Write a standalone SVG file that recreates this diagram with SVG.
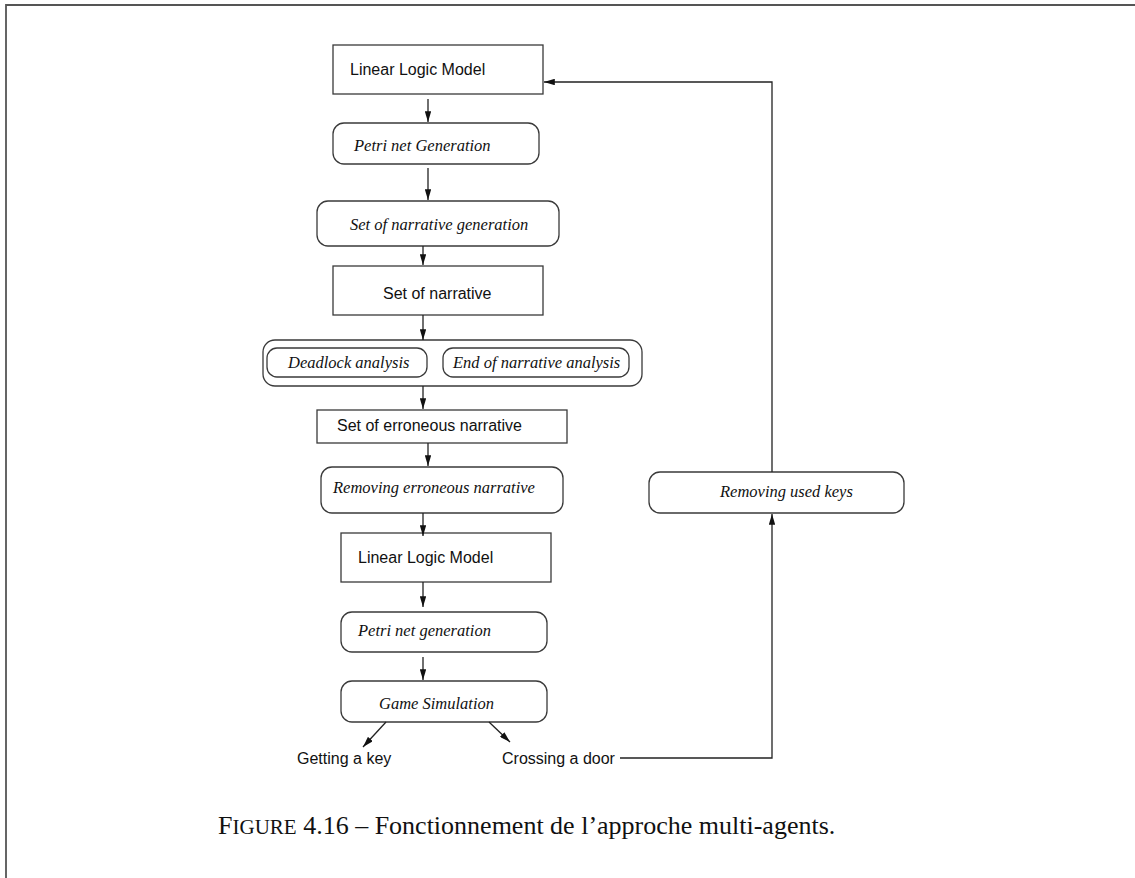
<svg xmlns="http://www.w3.org/2000/svg" width="1135" height="878" viewBox="0 0 1135 878">
<style>
.box{fill:#fff;stroke:#3a3a3a;stroke-width:1.3}
.sans{font-family:"Liberation Sans",Arial,sans-serif;font-size:16px;fill:#111}
.ital{font-family:"Liberation Serif","Times New Roman",serif;font-style:italic;font-size:16.5px;fill:#111}
.con{fill:none;stroke:#222;stroke-width:1.3}
.frame{fill:none;stroke:#555;stroke-width:1.8}
.cap{font-family:"Liberation Serif","Times New Roman",serif;font-size:26px;fill:#111}
</style>
<defs>
<marker id="ah" viewBox="0 0 10 6" refX="10" refY="3" markerWidth="11" markerHeight="6.5" markerUnits="userSpaceOnUse" orient="auto">
<path d="M0,0 L10,3 L0,6 Z" fill="#111"/>
</marker>
</defs>
<rect width="1135" height="878" fill="#fff"/>
<path class="frame" d="M6,878 V5 H1135"/>

<g id="n1"><rect class="box" x="333" y="45" width="210" height="49"/><text class="sans" x="350" y="75">Linear Logic Model</text></g>
<g id="n2"><rect class="box" x="333" y="123" width="206" height="41" rx="11"/><text class="ital" x="354" y="151">Petri net Generation</text></g>
<g id="n3"><rect class="box" x="317" y="201" width="242" height="45" rx="11"/><text class="ital" x="350" y="230">Set of narrative generation</text></g>
<g id="n4"><rect class="box" x="333" y="266" width="210" height="49"/><text class="sans" x="383" y="299">Set of narrative</text></g>
<g id="n5"><rect class="box" x="263" y="340" width="379" height="46" rx="12"/>
<rect class="box" x="267" y="348" width="160" height="29" rx="10"/><text class="ital" x="288" y="368">Deadlock analysis</text>
<rect class="box" x="443" y="348" width="186" height="29" rx="10"/><text class="ital" x="453" y="368">End of narrative analysis</text></g>
<g id="n6"><rect class="box" x="317" y="410" width="250" height="33"/><text class="sans" x="337" y="431">Set of erroneous narrative</text></g>
<g id="n7"><rect class="box" x="321" y="467" width="242" height="46" rx="11"/><text class="ital" x="333" y="493">Removing erroneous narrative</text></g>
<g id="n8"><rect class="box" x="341" y="533" width="210" height="49"/><text class="sans" x="358" y="563">Linear Logic Model</text></g>
<g id="n9"><rect class="box" x="341" y="612" width="206" height="40" rx="11"/><text class="ital" x="358" y="636">Petri net generation</text></g>
<g id="n10"><rect class="box" x="341" y="681" width="206" height="41" rx="11"/><text class="ital" x="379" y="709">Game Simulation</text></g>
<g id="n11"><text class="sans" x="297" y="764">Getting a key</text></g>
<g id="n12"><text class="sans" x="502" y="764">Crossing a door</text></g>
<g id="n13"><rect class="box" x="649" y="472" width="255" height="41" rx="11"/><text class="ital" x="720" y="497">Removing used keys</text></g>

<g id="connectors">
<line class="con" x1="428" y1="99" x2="428" y2="122" marker-end="url(#ah)"/>
<line class="con" x1="428" y1="168" x2="428" y2="200" marker-end="url(#ah)"/>
<line class="con" x1="423" y1="246" x2="423" y2="265" marker-end="url(#ah)"/>
<line class="con" x1="423" y1="315" x2="423" y2="340" marker-end="url(#ah)"/>
<line class="con" x1="423" y1="386" x2="423" y2="409" marker-end="url(#ah)"/>
<line class="con" x1="428" y1="443" x2="428" y2="466" marker-end="url(#ah)"/>
<line class="con" x1="423" y1="513" x2="423" y2="536" marker-end="url(#ah)"/>
<line class="con" x1="423" y1="582" x2="423" y2="607" marker-end="url(#ah)"/>
<line class="con" x1="423" y1="657" x2="423" y2="680" marker-end="url(#ah)"/>
<line class="con" x1="386" y1="722" x2="363" y2="747" marker-end="url(#ah)"/>
<line class="con" x1="489" y1="722" x2="510" y2="742" marker-end="url(#ah)"/>
<polyline class="con" points="620,758 772,758 772,514" marker-end="url(#ah)"/>
<polyline class="con" points="772,472 772,82 544,82" marker-end="url(#ah)"/>
</g>

<text class="cap" x="218" y="834">F<tspan font-size="21">IGURE</tspan> 4.16 – Fonctionnement de l’approche multi-agents.</text>
</svg>
